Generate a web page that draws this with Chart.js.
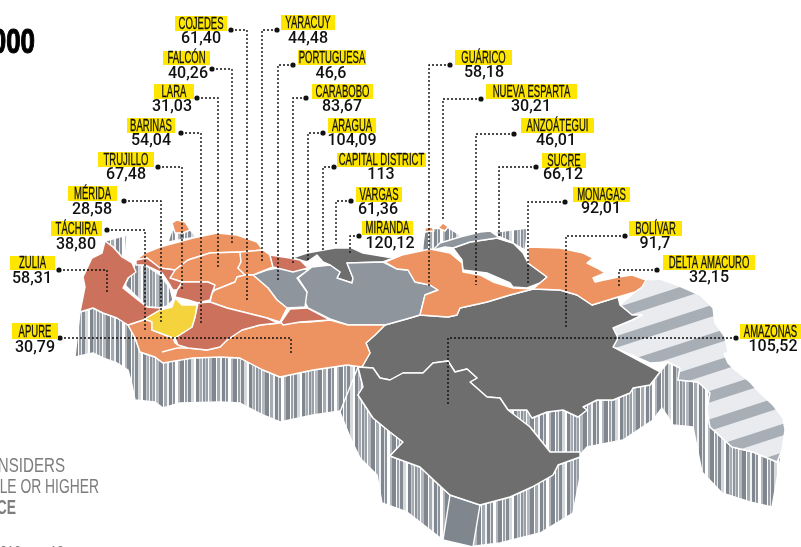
<!DOCTYPE html>
<html>
<head>
<meta charset="utf-8">
<style>
html, body { margin: 0; padding: 0; background: #fff; overflow: hidden; }
canvas { display: block; }
</style>
<script src="https://cdn.jsdelivr.net/npm/chart.js@4/dist/chart.umd.js"></script>
</head>
<body>
<canvas id="mapChart" width="801" height="547"></canvas>
<script>
// Values per state, in the order of the callouts
var stateNames = ['COJEDES', 'YARACUY', 'FALCÓN', 'PORTUGUESA', 'LARA', 'CARABOBO', 'BARINAS', 'ARAGUA',
    'TRUJILLO', 'CAPITAL DISTRICT', 'MÉRIDA', 'VARGAS', 'TÁCHIRA', 'MIRANDA', 'ZULIA', 'APURE',
    'GUÁRICO', 'NUEVA ESPARTA', 'ANZOÁTEGUI', 'SUCRE', 'MONAGAS', 'BOLÍVAR', 'DELTA AMACURO', 'AMAZONAS'];
var stateValues = ['61,40', '44,48', '40,26', '46,6', '31,03', '83,67', '54,04', '104,09',
    '67,48', '113', '28,58', '61,36', '38,80', '120,12', '58,31', '30,79',
    '58,18', '30,21', '46,01', '66,12', '92,01', '91,7', '32,15', '105,52'];

// Label boxes [left, top, right, bottom] and value text [center x, baseline y]
var labelBoxes = [[175,16,227,31],[281,15,335,30],[163,51,210,65],[298,50,366,65],[154,84,194,99],[312,84,373,99],
    [127,118,175,133],[328,118,376,133],[98,152,154,167],[337,153,426,167],[68,186,117,201],[356,187,402,202],
    [51,221,102,236],[362,221,413,235],[10,256,55,270],[12,323,58,339],[455,50,512,65],[486,84,577,99],
    [521,118,594,133],[542,153,586,168],[573,187,630,202],[629,221,682,236],[663,255,755,270],[740,324,801,339]];
var valueAnchors = [[201,43],[308,43],[188,78],[331,78],[172,111],[342,111],[151,145],[352,145],[126,179],[381,179],
    [92,214],[378,214],[76,249],[390,248],[32,283],[35,352],[484,77],[531,111],[556,145],[563,179],[601,213],[655,248],[709,282],[773,351]];

// Leader lines, from the dot to the inside of the state
var leaderPaths = [
    [[231,30],[247,30],[247,300]], [[277,30],[262,30],[262,263]], [[212,69],[232,69],[232,243]],
    [[293,65],[278,65],[278,282]], [[197,98],[218,98],[218,267]], [[306,98],[293,98],[293,263]],
    [[181,133],[201,133],[201,323]], [[323,133],[308,133],[308,260]], [[158,167],[182,167],[182,290]],
    [[334,167],[323,167],[323,250]], [[124,201],[161,201],[161,322]], [[351,201],[336,201],[336,245]],
    [[107,230],[145,230],[145,332]], [[359,236],[350,236],[350,253]], [[59,270],[107,270],[107,292]],
    [[60,338],[291,338],[291,355]], [[450,65],[429,65],[429,287]], [[481,99],[443,99],[443,220]],
    [[514,134],[476,134],[476,285]], [[536,167],[499,167],[499,237]], [[565,202],[528,202],[528,283]],
    [[625,236],[566,236],[566,328]], [[657,270],[619,270],[619,288]], [[736,338],[448,338],[448,405]]
];

// Side walls of the raised map
var wallShapes = [
    [[80,312],[93,308],[103,313],[117,318],[128,325],[135,338],[140,352],[155,357],[163,363],[180,358],[220,357],[240,358],[263,370],[280,377],[313,370],[347,365],[362,367],[358,395],[357,410],[347,410],[313,415],[280,422],[263,415],[240,403],[220,402],[180,403],[163,408],[155,402],[135,400],[132,385],[128,370],[117,363],[103,358],[93,353],[75,357]],
    [[358,367],[363,387],[358,395],[373,418],[390,432],[403,442],[390,456],[420,467],[437,483],[450,495],[480,505],[510,497],[532,487],[553,475],[558,465],[580,457],[580,477],[573,513],[540,533],[500,543],[467,547],[443,540],[407,512],[382,503],[377,475],[360,458],[350,437],[340,412]],
    [[507,410],[527,410],[532,418],[547,412],[563,410],[578,417],[587,410],[583,407],[597,400],[613,400],[630,393],[633,388],[650,385],[660,372],[668,362],[680,368],[678,380],[698,382],[710,393],[707,410],[710,427],[732,447],[753,452],[777,462],[782,450],[772,507],[750,502],[722,493],[702,472],[698,452],[693,427],[673,425],[662,408],[653,420],[623,440],[587,447],[580,455],[550,452],[530,427]],
    [[136,262],[125,285],[147,307],[165,308],[173,300],[170,288],[160,275],[145,265]],
    [[105,241],[127,235],[125,260],[113,247]],
    [[172,230],[168,242],[197,237],[190,230]],
    [[425,230],[447,227],[463,237],[433,250],[422,252]],
    [[495,232],[528,228],[525,250],[513,243],[500,237]]
];
var plainWall = [[450,495],[480,505],[473,547],[443,540]];

// State outlines, grouped by colour
var darkShapes = [
    [[385,325],[410,318],[420,315],[448,317],[457,315],[460,308],[487,302],[510,295],[533,289],[560,290],[577,295],[592,305],[618,297],[620,305],[632,315],[642,315],[632,320],[613,328],[618,338],[613,347],[660,372],[650,385],[633,388],[630,393],[613,400],[597,400],[583,407],[587,410],[578,417],[563,410],[547,412],[532,418],[527,410],[508,410],[500,398],[487,397],[470,382],[477,378],[467,369],[455,372],[448,361],[433,363],[423,373],[403,373],[390,380],[380,378],[373,368],[358,367],[362,367],[370,353],[366,343],[375,335]],
    [[358,367],[373,368],[380,378],[390,380],[403,373],[423,373],[433,363],[448,361],[455,372],[467,369],[477,378],[470,382],[487,397],[500,398],[508,410],[530,427],[550,452],[580,452],[580,457],[558,465],[553,475],[532,487],[510,497],[480,505],[450,495],[437,483],[420,467],[390,456],[403,442],[390,432],[373,418],[358,395],[363,387]],
    [[453,248],[470,242],[497,238],[513,243],[523,253],[528,263],[547,277],[540,283],[527,288],[513,287],[510,283],[487,273],[463,270],[462,260]],
    [[292,258],[307,253],[335,248],[352,248],[363,253],[393,258],[383,262],[347,263],[353,278],[352,283],[337,278],[340,272],[330,265],[323,262],[317,255],[307,262]]
];
var greyShapes = [
    [[298,278],[312,267],[330,265],[340,272],[337,278],[352,283],[353,278],[347,263],[383,262],[397,269],[408,270],[415,282],[430,285],[438,290],[425,295],[420,315],[410,318],[385,325],[348,325],[330,319],[308,308],[303,298],[307,292]],
    [[253,275],[267,270],[293,265],[308,270],[297,278],[307,292],[305,307],[287,308],[277,300],[268,288]],
    [[433,250],[440,243],[460,237],[480,232],[490,231],[497,236],[513,243],[497,238],[470,242],[453,248],[445,247]]
];
var orangeShapes = [
    [[136,260],[145,253],[160,247],[193,238],[217,233],[237,235],[257,242],[263,250],[240,252],[210,253],[188,260],[175,270],[160,268],[147,258]],
    [[175,270],[188,260],[210,253],[240,252],[241,262],[238,268],[245,275],[237,277],[235,282],[215,290],[208,282],[182,282],[170,278]],
    [[240,252],[263,250],[270,255],[273,267],[253,275],[245,275],[238,268],[241,262]],
    [[215,290],[235,282],[237,277],[245,275],[253,275],[268,288],[277,300],[287,308],[280,322],[267,318],[247,313],[227,308],[210,302],[212,293]],
    [[128,325],[143,320],[152,320],[152,330],[173,338],[175,343],[178,345],[188,348],[207,350],[220,347],[227,340],[242,330],[260,325],[280,323],[310,322],[330,320],[348,325],[385,325],[375,335],[366,343],[370,353],[362,367],[347,365],[313,370],[280,377],[263,370],[240,358],[220,357],[193,358],[163,363],[155,357],[140,352],[135,338]],
    [[385,262],[402,255],[430,249],[450,253],[462,263],[463,272],[480,275],[493,282],[513,288],[533,289],[510,295],[487,302],[460,308],[457,315],[448,317],[420,315],[425,295],[438,290],[430,285],[415,282],[408,270],[397,269]],
    [[528,247],[560,248],[583,253],[593,258],[587,263],[597,268],[605,273],[593,278],[595,282],[618,277],[632,275],[646,280],[642,287],[635,292],[618,297],[592,305],[577,295],[560,290],[533,289],[540,283],[547,277],[528,263]],
    [[172,223],[177,220],[185,222],[190,230],[183,233],[175,233]],
    [[425,228],[432,227],[434,231],[425,232]],
    [[438,228],[443,223],[448,227],[445,231]]
];
var redShapes = [
    [[105,241],[113,247],[122,257],[132,263],[136,272],[128,278],[123,288],[138,300],[147,307],[160,308],[172,305],[160,310],[143,320],[128,325],[117,318],[103,313],[93,308],[80,312],[85,287],[83,277],[92,258],[102,253]],
    [[136,260],[147,258],[160,268],[175,270],[170,278],[182,282],[177,290],[173,290],[170,285],[162,273],[145,265],[136,265]],
    [[177,290],[183,282],[208,282],[215,285],[212,293],[210,300],[198,303],[188,300],[175,297]],
    [[198,303],[210,302],[227,308],[247,313],[267,318],[278,323],[260,325],[242,330],[227,340],[220,347],[207,350],[188,348],[178,345],[175,338],[192,327],[195,317]],
    [[270,255],[290,258],[300,260],[308,268],[293,272],[273,267]],
    [[281,322],[290,309],[307,308],[330,320],[300,322],[283,325]]
];
var yellowShapes = [
    [[175,298],[182,305],[197,305],[195,317],[192,327],[175,338],[173,338],[160,333],[152,330],[152,322],[145,319],[160,310],[172,307]]
];
var guyanaShape = [[646,280],[660,279],[677,285],[700,295],[713,308],[715,323],[725,337],[728,352],[724,354],[728,363],[735,370],[750,382],[760,393],[773,405],[783,418],[785,430],[782,450],[777,462],[753,452],[732,447],[710,427],[707,410],[710,393],[698,382],[678,380],[680,368],[668,362],[650,363],[613,347],[618,338],[613,328],[632,320],[642,315],[632,315],[620,305],[635,292]];
var apureInnerLine = [[162,352],[177,348],[188,348]];

// The walls have vertical bars, Guyana has diagonal stripes
function wallPattern(ctx) {
    var bars = [[4,'#7f868e'],[1,'#ffffff'],[3,'#a6abb2'],[2,'#f1f2f4'],[3,'#808790'],[1,'#dfe1e4'],[2,'#8d939b'],[3,'#ffffff'],[2,'#b5b9bf'],
        [4,'#7f868e'],[1,'#ffffff'],[2,'#9aa0a7'],[1,'#e6e8ea'],[3,'#868c94'],[3,'#d7dadd'],[2,'#ffffff'],[3,'#7f868e'],[1,'#c8ccd0'],
        [2,'#a6abb2'],[1,'#f1f2f4'],[2,'#8d939b'],[1,'#c8ccd0'],[2,'#9aa0a7'],[1,'#ffffff'],[3,'#b5b9bf']];
    var total = bars.reduce(function (s, b) { return s + b[0]; }, 0);
    var tile = document.createElement('canvas');
    tile.width = total;
    tile.height = 4;
    var c = tile.getContext('2d'), x = 0;
    bars.forEach(function (b) {
        c.fillStyle = b[1];
        c.fillRect(x, 0, b[0], 4);
        x += b[0];
    });
    return ctx.createPattern(tile, 'repeat');
}

function stripePattern(ctx) {
    var tile = document.createElement('canvas');
    tile.width = 4;
    tile.height = 27;
    var c = tile.getContext('2d');
    c.fillStyle = '#e9ebee';
    c.fillRect(0, 0, 4, 27);
    c.fillStyle = '#a8aeb6';
    c.fillRect(0, 0, 4, 11);
    var p = ctx.createPattern(tile, 'repeat');
    p.setTransform(new DOMMatrix().translate(680, 287).rotate(-18));
    return p;
}

function toPoints(path) {
    return path.map(function (p) { return { x: p[0], y: p[1] }; });
}

function shapeDataset(path, fill) {
    return { polygon: true, data: toPoints(path), backgroundColor: fill, borderColor: '#ffffff', borderWidth: 1.4, pointRadius: 0, showLine: false };
}

// Scatter lines do not close, so filled shapes are traced here from the scaled points
var polygonPlugin = {
    id: 'polygons',
    beforeDatasetDraw: function (chart, args) {
        var ds = chart.data.datasets[args.index];
        if (!ds.polygon) return;
        var ctx = chart.ctx, pts = args.meta.data;
        ctx.save();
        ctx.beginPath();
        pts.forEach(function (p, i) {
            if (i === 0) ctx.moveTo(p.x, p.y); else ctx.lineTo(p.x, p.y);
        });
        ctx.closePath();
        ctx.fillStyle = ds.backgroundColor;
        ctx.fill();
        if (ds.borderWidth) {
            ctx.strokeStyle = ds.borderColor;
            ctx.lineWidth = ds.borderWidth;
            ctx.lineJoin = 'round';
            ctx.stroke();
        }
        ctx.restore();
        return false;
    }
};

// No condensed face is installed for sure, so squeeze the text sideways
function squeezedText(ctx, text, x, y, xScale, thicken) {
    ctx.save();
    ctx.translate(x, y);
    ctx.scale(xScale, 1);
    ctx.fillText(text, 0, 0);
    if (thicken) {
        ctx.strokeStyle = ctx.fillStyle;
        ctx.lineWidth = thicken;
        ctx.strokeText(text, 0, 0);
    }
    ctx.restore();
}

var labelPlugin = {
    id: 'callouts',
    beforeDatasetsDraw: function (chart) {
        var ctx = chart.ctx;
        ctx.save();
        ctx.textBaseline = 'alphabetic';
        ctx.textAlign = 'right';
        ctx.fillStyle = '#000';
        ctx.font = 'bold 35px "Liberation Sans"';
        squeezedText(ctx, '000', 35, 53, 0.74, 1.2);
        ctx.fillStyle = '#7d7d7d';
        ctx.font = '21px "Liberation Sans"';
        squeezedText(ctx, 'NSIDERS', 65, 472, 0.72);
        squeezedText(ctx, 'LE OR HIGHER', 99, 493, 0.66);
        ctx.font = 'bold 21px "Liberation Sans"';
        squeezedText(ctx, 'CE', 16, 514, 0.66);
        ctx.font = '14px "Liberation Sans"';
        squeezedText(ctx, '016', 21, 556, 0.9);
        squeezedText(ctx, '18', 64, 556, 0.9);
        ctx.restore();
    },
    afterDatasetsDraw: function (chart) {
        var ctx = chart.ctx, sx = chart.scales.x, sy = chart.scales.y;
        ctx.save();
        stateNames.forEach(function (name, i) {
            var b = labelBoxes[i];
            var left = sx.getPixelForValue(b[0]), top = sy.getPixelForValue(b[1]);
            var right = sx.getPixelForValue(b[2]), bottom = sy.getPixelForValue(b[3]);
            ctx.fillStyle = '#ffe600';
            ctx.fillRect(left, top, right - left, bottom - top);
            ctx.fillStyle = '#111';
            ctx.textAlign = 'center';
            ctx.textBaseline = 'alphabetic';
            ctx.font = '17px "Liberation Sans"';
            squeezedText(ctx, name, (left + right) / 2, bottom - 2, 0.56, 0.3);
            ctx.font = '500 16px Roboto';
            ctx.fillText(stateValues[i], sx.getPixelForValue(valueAnchors[i][0]), sy.getPixelForValue(valueAnchors[i][1]));
        });
        ctx.restore();
    }
};

function initMapChart() {
    var el = document.getElementById('mapChart');
    var ctx = el.getContext('2d');
    var walls = wallPattern(ctx);
    var datasets = [];

    wallShapes.forEach(function (s) { datasets.push(shapeDataset(s, walls)); });
    datasets.push(shapeDataset(plainWall, '#7f868e'));
    datasets.push(shapeDataset(guyanaShape, stripePattern(ctx)));
    darkShapes.forEach(function (s) { datasets.push(shapeDataset(s, '#6e6e6e')); });
    greyShapes.forEach(function (s) { datasets.push(shapeDataset(s, '#8f959d')); });
    orangeShapes.forEach(function (s) { datasets.push(shapeDataset(s, '#ec9361')); });
    redShapes.forEach(function (s) { datasets.push(shapeDataset(s, '#cc715b')); });
    yellowShapes.forEach(function (s) { datasets.push(shapeDataset(s, '#f5d33c')); });

    datasets.push({ data: toPoints(apureInnerLine), showLine: true, borderColor: '#ffffff', borderWidth: 1.4, pointRadius: 0 });

    leaderPaths.forEach(function (path) {
        datasets.push({
            data: toPoints(path), showLine: true, borderColor: '#111', borderWidth: 1.4, borderDash: [2, 2],
            pointRadius: [2.6, 0, 0], pointBackgroundColor: '#111', pointBorderWidth: 0, fill: false, tension: 0
        });
    });

    // chart.js paints the first dataset last, so flip to keep the order above
    datasets.reverse();

    new Chart(el, {
        type: 'scatter',
        data: { datasets: datasets },
        plugins: [polygonPlugin, labelPlugin],
        options: {
            responsive: false,
            animation: false,
            layout: { padding: 0, autoPadding: false },
            plugins: { legend: { display: false }, tooltip: { enabled: false } },
            scales: {
                x: { type: 'linear', min: 0, max: 801, display: false },
                y: { type: 'linear', min: 0, max: 547, reverse: true, display: false }
            }
        }
    });
}

initMapChart();
</script>
</body>
</html>
